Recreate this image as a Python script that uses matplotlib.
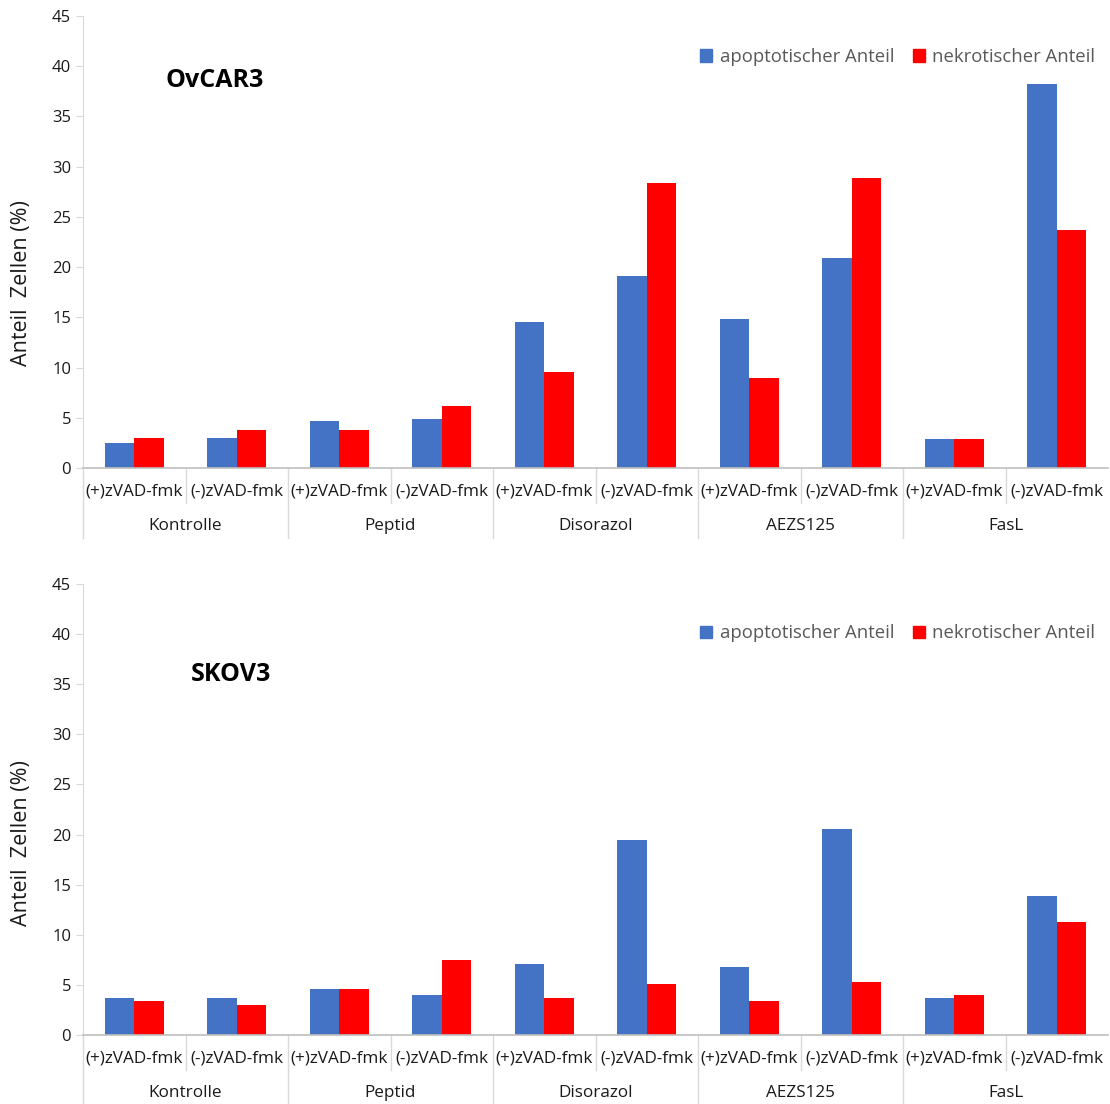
import matplotlib.pyplot as plt
import matplotlib.transforms as mtransforms
from matplotlib.patches import Patch
import numpy as np

plt.rcParams['font.family'] = ['Open Sans', 'DejaVu Sans']

groups = ["Kontrolle", "Peptid", "Disorazol", "AEZS125", "FasL"]
conditions = ["(+)zVAD-fmk", "(-)zVAD-fmk"]

# OvCAR3, one value per group/condition pair
ovcar3_apopt = [2.5, 3.0, 4.7, 4.85, 14.5, 19.1, 14.8, 20.9, 2.9, 38.2]
ovcar3_nekro = [3.0, 3.75, 3.8, 6.15, 9.55, 28.35, 9.0, 28.85, 2.9, 23.7]

# SKOV3
skov3_apopt = [3.65, 3.65, 4.6, 3.95, 7.1, 19.5, 6.75, 20.6, 3.7, 13.85]
skov3_nekro = [3.35, 3.0, 4.6, 7.5, 3.7, 5.1, 3.35, 5.25, 3.95, 11.3]

BLUE = "#4472C4"
RED = "#FF0000"
GRID = "#D9D9D9"
LABEL = "#1A1A1A"


def draw_panel(ax, apopt, nekro, name, name_xy, leg_anchor, ylab_y, group_line_len):
    n = len(apopt)
    x = np.arange(n) + 0.5
    w = 0.29
    ax.bar(x - w / 2, apopt, w, color=BLUE, label="apoptotischer Anteil")
    ax.bar(x + w / 2, nekro, w, color=RED, label="nekrotischer Anteil")

    ax.set_xlim(0, n)
    ax.set_ylim(0, 45)
    ax.set_yticks(range(0, 46, 5))
    ax.tick_params(axis='y', labelsize=12, length=5, colors=GRID,
                   labelcolor=LABEL)
    ax.set_xticks([])

    for s in ["top", "right"]:
        ax.spines[s].set_visible(False)
    ax.spines["left"].set_color(GRID)
    ax.spines["bottom"].set_color("#BFBFBF")
    ax.spines["bottom"].set_linewidth(1.2)

    # two-level category axis
    trans = mtransforms.blended_transform_factory(ax.transData, ax.transAxes)
    for i in range(n):
        ax.text(i + 0.5, -0.052, conditions[i % 2], transform=trans,
                ha='center', va='center', fontsize=12.3, color=LABEL)
    for g, grp in enumerate(groups):
        ax.text(2 * g + 1, -0.128, grp, transform=trans,
                ha='center', va='center', fontsize=12.3, color=LABEL)
    for i in range(1, n, 2):
        ax.plot([i, i], [0, -0.077], transform=trans, color=GRID,
                lw=1.0, clip_on=False)
    for g in range(0, n, 2):
        ax.plot([g, g], [0, -group_line_len], transform=trans, color=GRID,
                lw=1.0, clip_on=False)

    ax.text(name_xy[0], name_xy[1], name, transform=ax.transAxes,
            ha='center', va='center', fontsize=18, fontweight='bold')

    ax.set_ylabel("Anteil  Zellen (%)", fontsize=15.5, color=LABEL)
    ax.yaxis.set_label_coords(-0.050, ylab_y)

    handles = [Patch(color=BLUE), Patch(color=RED)]
    ax.legend(handles, ["apoptotischer Anteil", "nekrotischer Anteil"],
              loc='center right', bbox_to_anchor=leg_anchor, ncol=2,
              frameon=False, fontsize=13.3, handlelength=0.65,
              handleheight=0.65, handletextpad=0.4, columnspacing=1.0,
              borderaxespad=0.3, labelcolor="#595959")


fig = plt.figure(figsize=(11.1, 11.04), dpi=100)
ax1 = fig.add_axes([0.0748, 0.5761, 0.9234, 0.4094])
ax2 = fig.add_axes([0.0748, 0.0625, 0.9234, 0.4085])

draw_panel(ax1, ovcar3_apopt, ovcar3_nekro, "OvCAR3", (0.128, 0.858),
           (1.0, 0.909), 0.41, 0.155)
draw_panel(ax2, skov3_apopt, skov3_nekro, "SKOV3", (0.144, 0.80),
           (1.0, 0.891), 0.426, 0.155)

fig.savefig("out.png", dpi=100)
